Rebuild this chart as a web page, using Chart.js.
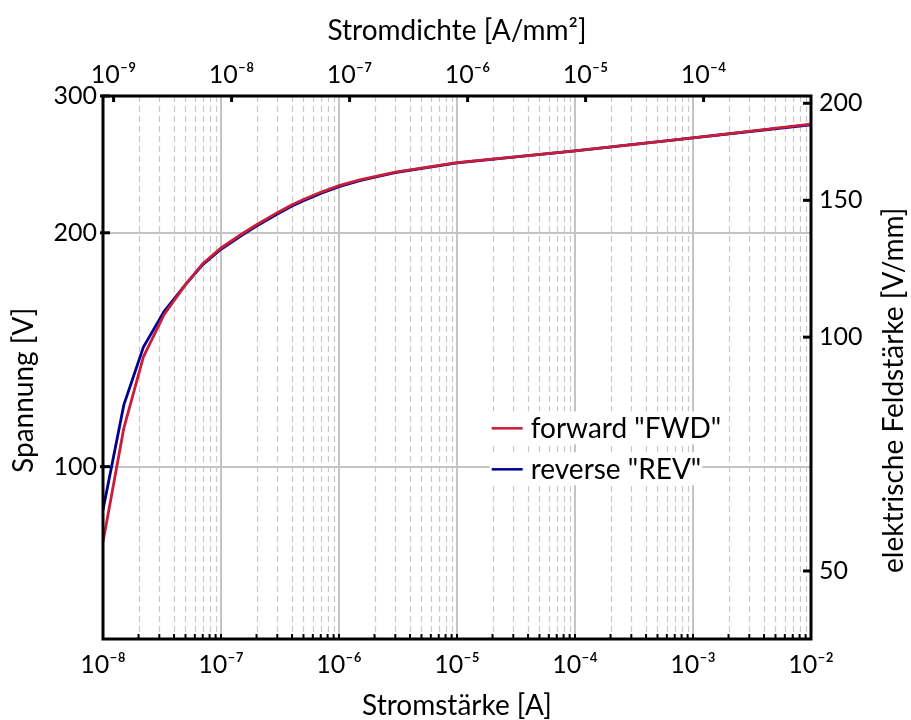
<!DOCTYPE html>
<html>
<head>
    <meta charset="utf-8">
    <title>Kennlinie Spannung / Strom</title>
    <script src="https://cdn.jsdelivr.net/npm/chart.js@4.4.1/dist/chart.umd.min.js"></script>
    <style>
        body { margin: 0; background: #fff; }
        canvas { display: block; }
    </style>
</head>
<body>
<canvas id="kennlinie" width="911" height="720"></canvas>
<script>
    var strom = [1e-8, 1.5e-8, 2.2e-8, 3.3e-8, 5e-8, 7e-8, 1e-7, 1.5e-7, 2e-7, 3e-7, 4e-7, 5e-7, 7e-7, 1e-6, 1.5e-6, 2.2e-6, 3e-6, 1e-5, 1e-4, 1e-3, 1e-2];
    var spannungFWD = [80, 112, 138.5, 157, 171.5, 182.5, 191.2, 199.3, 204.8, 212.3, 217.3, 220.8, 225.5, 230, 234, 237, 239.4, 246.2, 255, 265, 276];
    var spannungREV = [88, 120, 142.5, 158.5, 171.5, 182, 190.5, 198.5, 204, 211.5, 216.5, 220, 224.8, 229.3, 233.5, 236.5, 239, 246, 255, 265, 275.5];

    // Achsen
    var stromTicks = [1e-8, 1e-7, 1e-6, 1e-5, 1e-4, 1e-3, 1e-2];
    var dichteTicks = [1e-9, 1e-8, 1e-7, 1e-6, 1e-5, 1e-4];
    var spannungTicks = [100, 200, 300];
    var feldTicks = [50, 100, 150, 200];
    var flaeche = 12.3;  // mm^2
    var dicke = 1.468;   // mm
    var stromMin = 1e-8, stromMax = 1e-2;
    var spannungMin = 60, spannungMax = 300;

    var schrift = "Lato, 'Noto Sans', 'DejaVu Sans', sans-serif";

    function hochZehn(v) {
        var hoch = {'-': '\u207B', '0': '\u2070', '1': '\u00B9', '2': '\u00B2', '3': '\u00B3', '4': '\u2074',
            '5': '\u2075', '6': '\u2076', '7': '\u2077', '8': '\u2078', '9': '\u2079'};
        var e = String(Math.round(Math.log10(v)));
        var s = '';
        for (var i = 0; i < e.length; i++) s += hoch[e[i]];
        return '10' + s;
    }

    function punkte(ys) {
        var d = [];
        for (var i = 0; i < strom.length; i++) d.push({x: strom[i], y: ys[i]});
        return d;
    }

    // Gitter: Dekaden durchgezogen, Zwischenwerte gestrichelt
    var gitter = {
        id: 'gitter',
        beforeDatasetsDraw: function (chart) {
            var ctx = chart.ctx, a = chart.chartArea, sx = chart.scales.x, sy = chart.scales.y;
            ctx.save();
            ctx.strokeStyle = '#c8c8c8';
            ctx.lineWidth = 1.2;
            ctx.setLineDash([6, 4]);
            for (var e = -8; e < -2; e++) {
                for (var k = 2; k <= 9; k++) {
                    var px = Math.round(sx.getPixelForValue(k * Math.pow(10, e))) + 0.5;
                    ctx.beginPath(); ctx.moveTo(px, a.top); ctx.lineTo(px, a.bottom); ctx.stroke();
                }
            }
            ctx.setLineDash([]);
            ctx.strokeStyle = '#c4c4c4';
            ctx.lineWidth = 2;
            stromTicks.forEach(function (t) {
                var px = Math.round(sx.getPixelForValue(t));
                ctx.beginPath(); ctx.moveTo(px, a.top); ctx.lineTo(px, a.bottom); ctx.stroke();
            });
            spannungTicks.forEach(function (t) {
                var py = Math.round(sy.getPixelForValue(t));
                ctx.beginPath(); ctx.moveTo(a.left, py); ctx.lineTo(a.right, py); ctx.stroke();
            });
            ctx.restore();
        },
        afterDatasetsDraw: function (chart) {
            var ctx = chart.ctx, a = chart.chartArea, s = chart.scales;
            var w = a.right - a.left, h = a.bottom - a.top;
            ctx.save();
            // Legende
            ctx.font = '28px ' + schrift;
            ctx.textBaseline = 'middle';
            chart.data.datasets.forEach(function (ds, i) {
                var lx = a.left + 0.549 * w, ly = a.top + (0.612 + i * 0.0755) * h;
                var tw = ctx.measureText(ds.label).width;
                ctx.fillStyle = '#fff';
                ctx.fillRect(lx - 2, ly - 17, 42 + tw, 33);
                ctx.strokeStyle = ds.borderColor;
                ctx.lineWidth = 2.5;
                ctx.beginPath(); ctx.moveTo(lx, ly); ctx.lineTo(lx + 31, ly); ctx.stroke();
                ctx.fillStyle = '#000';
                ctx.fillText(ds.label, lx + 39, ly + 1);
            });
            // Rahmen
            ctx.strokeStyle = '#000';
            ctx.lineWidth = 3;
            ctx.strokeRect(a.left, a.top, w, h);
            // Striche nach innen
            ctx.lineWidth = 2;
            for (var e = -8; e < -2; e++) {
                for (var k = 1; k <= 9; k++) {
                    var px = s.x.getPixelForValue(k * Math.pow(10, e));
                    ctx.beginPath(); ctx.moveTo(px, a.bottom); ctx.lineTo(px, a.bottom - 5); ctx.stroke();
                }
            }
            ctx.lineWidth = 3;
            dichteTicks.forEach(function (t) {
                var px = s.x2.getPixelForValue(t);
                ctx.beginPath(); ctx.moveTo(px, a.top); ctx.lineTo(px, a.top + 6); ctx.stroke();
            });
            spannungTicks.forEach(function (t) {
                var py = s.y.getPixelForValue(t);
                ctx.beginPath(); ctx.moveTo(a.left - 3, py); ctx.lineTo(a.left + 7, py); ctx.stroke();
            });
            feldTicks.forEach(function (t) {
                var py = s.y2.getPixelForValue(t);
                ctx.beginPath(); ctx.moveTo(a.right - 8, py); ctx.lineTo(a.right + 1, py); ctx.stroke();
            });
            // seitliche Achsentitel (von unten nach oben gelesen)
            ctx.font = '28px ' + schrift;
            ctx.fillStyle = '#000';
            ctx.textAlign = 'center';
            ctx.textBaseline = 'alphabetic';
            var ty = a.top + 0.542 * h;
            ctx.translate(a.left - 70, ty);
            ctx.rotate(-Math.PI / 2);
            ctx.fillText('Spannung [V]', 0, 0);
            ctx.rotate(Math.PI / 2);
            ctx.translate(a.right + 92 - (a.left - 70), 0);
            ctx.rotate(-Math.PI / 2);
            ctx.fillText('elektrische Feldstärke [V/mm]', 0, 0);
            ctx.restore();
        }
    };

    var tickFont = {family: schrift, size: 25};
    var titelFont = {family: schrift, size: 28};
    var keinGitter = {display: false, drawTicks: false};

    var chart = new Chart(document.getElementById('kennlinie'), {
        type: 'line',
        data: {
            datasets: [
                {label: 'forward "FWD"', data: punkte(spannungFWD), borderColor: '#c81e3c', borderWidth: 2.8, xAxisID: 'x', yAxisID: 'y'},
                {label: 'reverse "REV"', data: punkte(spannungREV), borderColor: '#00008c', borderWidth: 2.8, xAxisID: 'x', yAxisID: 'y'}
            ]
        },
        options: {
            responsive: false,
            animation: false,
            layout: {padding: 0},
            elements: {point: {radius: 0}, line: {tension: 0}},
            plugins: {legend: {display: false}, tooltip: {enabled: false}},
            scales: {
                x: {
                    type: 'logarithmic', position: 'bottom', min: stromMin, max: stromMax,
                    afterBuildTicks: function (sc) { sc.ticks = stromTicks.map(function (v) { return {value: v}; }); },
                    afterFit: function (sc) { sc.height = 81; },
                    ticks: {callback: hochZehn, font: tickFont, color: '#000', padding: 11, maxRotation: 0, autoSkip: false},
                    grid: keinGitter, border: {display: false},
                    title: {display: true, text: 'Stromstärke [A]', font: titelFont, color: '#000', padding: {top: 0, bottom: -3}}
                },
                x2: {
                    type: 'logarithmic', position: 'top', min: stromMin / flaeche, max: stromMax / flaeche,
                    afterBuildTicks: function (sc) { sc.ticks = dichteTicks.map(function (v) { return {value: v}; }); },
                    afterFit: function (sc) { sc.height = 96; },
                    ticks: {callback: hochZehn, font: tickFont, color: '#000', padding: 6, maxRotation: 0, autoSkip: false},
                    grid: keinGitter, border: {display: false},
                    title: {display: true, text: 'Stromdichte [A/mm²]', font: titelFont, color: '#000', padding: {top: 14, bottom: 0}}
                },
                y: {
                    type: 'logarithmic', position: 'left', min: spannungMin, max: spannungMax,
                    afterBuildTicks: function (sc) { sc.ticks = spannungTicks.map(function (v) { return {value: v}; }); },
                    afterFit: function (sc) { sc.width = 103; },
                    ticks: {callback: function (v) { return String(v); }, font: tickFont, color: '#000', padding: 6},
                    grid: keinGitter, border: {display: false}
                },
                y2: {
                    type: 'logarithmic', position: 'right', min: spannungMin / dicke, max: spannungMax / dicke,
                    afterBuildTicks: function (sc) { sc.ticks = feldTicks.map(function (v) { return {value: v}; }); },
                    afterFit: function (sc) { sc.width = 100; },
                    ticks: {callback: function (v) { return String(v); }, font: tickFont, color: '#000', padding: 8},
                    grid: keinGitter, border: {display: false}
                }
            }
        },
        plugins: [gitter]
    });
</script>
</body>
</html>
